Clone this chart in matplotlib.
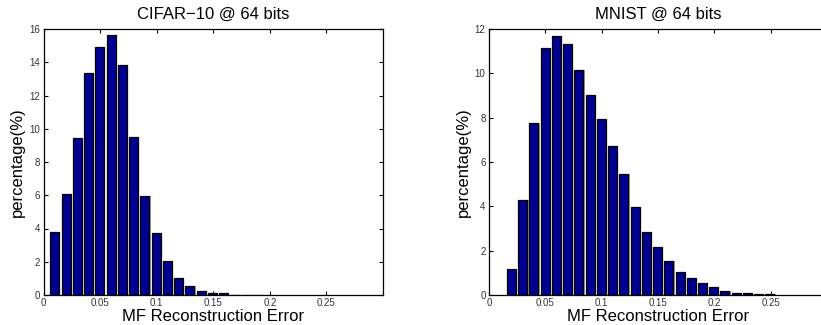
import numpy as np
import matplotlib
matplotlib.use('Agg')
import matplotlib.pyplot as plt

plt.rcParams['font.family'] = ['Liberation Sans', 'DejaVu Sans']

# histogram bin centres and heights (percentage)
cifar_centers = [0.0099, 0.0199, 0.0298, 0.0398, 0.0497, 0.0597, 0.0696, 0.0796,
                 0.0895, 0.0995, 0.1094, 0.1194, 0.1293, 0.1393, 0.1492, 0.1592,
                 0.1691, 0.1791, 0.1890]
cifar_pct = [3.79, 6.06, 9.43, 13.37, 14.94, 15.64, 13.82, 9.5,
             5.97, 3.73, 2.05, 1.02, 0.52, 0.25, 0.15, 0.1,
             0.03, 0.03, 0.03]

mnist_centers = [0.0200, 0.0300, 0.0399, 0.0499, 0.0599, 0.0699, 0.0798, 0.0898,
                 0.0998, 0.1097, 0.1197, 0.1297, 0.1396, 0.1496, 0.1596, 0.1696,
                 0.1795, 0.1895, 0.1995, 0.2094, 0.2194, 0.2294, 0.2393, 0.2493]
mnist_pct = [1.17, 4.27, 7.75, 11.14, 11.68, 11.32, 10.15, 9.04,
             7.95, 6.72, 5.44, 3.97, 2.86, 2.18, 1.53, 1.02,
             0.75, 0.54, 0.35, 0.18, 0.1, 0.08, 0.06, 0.03]

xticks = [0, 0.05, 0.1, 0.15, 0.2, 0.25]
xticklabels = ['0', '0.05', '0.1', '0.15', '0.2', '0.25']

W, H = 821, 325
fig = plt.figure(figsize=(W/100, H/100), dpi=100)

def panel(rect, centers, pct, ymax, title, binw):
 ax = fig.add_axes(rect)
 c = np.array(centers)
 # grey shadow to the right of each bar, like the matlab render
 ax.bar(c + 0.11*binw, pct, width=0.8*binw, color='#a0a0a0', linewidth=0, zorder=1)
 ax.bar(c, pct, width=0.8*binw, color='#000090', edgecolor='black', linewidth=0.9, zorder=2)
 ax.set_xlim(0, 0.3)
 ax.set_ylim(0, ymax)
 ax.set_xticks(xticks)
 ax.set_xticklabels(xticklabels)
 ax.set_yticks(np.arange(0, ymax + 1, 2))
 ax.tick_params(direction='in', top=True, right=True, length=3, width=0.8,
                labelsize=7, pad=2.5, labelcolor='#333333')
 for s in ax.spines.values():
  s.set_linewidth(0.9)
 ax.set_title(title, fontsize=12, pad=7.5)
 ax.set_xlabel('MF Reconstruction Error', fontsize=12, labelpad=0.5)
 ax.set_ylabel('percentage(%)', fontsize=12, labelpad=3)
 return ax

panel([43.5/W, 30/H, 339.5/W, 266/H], cifar_centers, cifar_pct, 16,
      'CIFAR\u221210 @ 64 bits', 0.00995)
panel([489/W, 30/H, 338/W, 266/H], mnist_centers, mnist_pct, 12,
      'MNIST @ 64 bits', 0.00997)

fig.savefig('out.png', dpi=100)
